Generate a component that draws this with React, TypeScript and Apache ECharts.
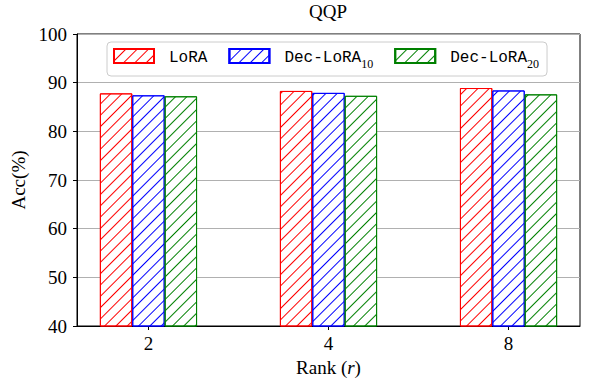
import React, { useEffect, useRef } from "react";
import * as echarts from "echarts";

const rankLabels = ["2", "4", "8"];
const seriesNames = ["LoRA", "Dec-LoRA10", "Dec-LoRA20"];
const loraAcc = [87.8, 88.3, 88.9];
const dec10Acc = [87.4, 87.9, 88.4];
const dec20Acc = [87.2, 87.3, 87.6];
const seriesColors = ["#ff0000", "#0000ff", "#008000"];
const yTicks = [40, 50, 60, 70, 80, 90, 100];

const SERIF = "'Liberation Serif', 'Times New Roman', serif";
const MONO = "'Liberation Mono', 'DejaVu Sans Mono', monospace";

export default function App() {
  const ref = useRef<HTMLDivElement>(null);
  useEffect(() => {
    document.body.style.margin = "0";
    if (!ref.current) return;
    const chart = echarts.init(ref.current, null, { renderer: "svg" });
    const values = [loraAcc, dec10Acc, dec20Acc];
    const mkDecal = (c: string) => ({
      symbol: "rect",
      symbolSize: 1,
      color: c,
      backgroundColor: "#ffffff",
      dashArrayX: [1, 0],
      dashArrayY: [1, 7],
      rotation: -Math.PI / 4,
    });
    chart.setOption({
      animation: false,
      aria: { enabled: true, decal: { show: true } },
      title: {
        text: "QQP",
        left: 328,
        top: 2,
        textAlign: "center",
        padding: 0,
        textStyle: { fontFamily: SERIF, fontSize: 19, fontWeight: "normal", color: "#000" },
      },
      grid: {
        left: 77,
        right: 10,
        top: 34,
        bottom: 64,
        show: true,
        borderColor: "#000",
        borderWidth: 1,
        backgroundColor: "transparent",
      },
      legend: {
        data: seriesNames,
        left: 107,
        top: 42,
        icon: "rect",
        itemWidth: 40,
        itemHeight: 14,
        itemGap: 21,
        padding: [6, 8, 6, 6],
        backgroundColor: "#fff",
        borderColor: "#cccccc",
        borderWidth: 1,
        borderRadius: 4,
        formatter: (name: string) => {
          const m = name.match(/^(.*?)(\d+)$/);
          return m ? `{main|${m[1]}}{sub|${m[2]}}` : `{main|${name}}`;
        },
        textStyle: {
          padding: [0, 0, 0, 10],
          rich: {
            main: { fontFamily: MONO, fontSize: 16, color: "#000", lineHeight: 20, verticalAlign: "bottom" },
            sub: { fontFamily: SERIF, fontSize: 12, color: "#000", lineHeight: 20, verticalAlign: "bottom", padding: [0, 0, -4, 0] },
          },
        },
      },
      xAxis: {
        type: "value",
        min: -0.397,
        max: 2.397,
        name: "Rank ({i|r})",
        nameLocation: "middle",
        nameGap: 31,
        nameTextStyle: {
          fontFamily: SERIF,
          fontSize: 19,
          color: "#000",
          rich: { i: { fontFamily: SERIF, fontStyle: "italic", fontSize: 19, color: "#000" } },
        },
        axisLine: { show: true, onZero: false, lineStyle: { color: "#000", width: 1 } },
        axisTick: { show: true, length: 4, customValues: [0, 1, 2], lineStyle: { color: "#000" } },
        axisLabel: {
          customValues: [0, 1, 2],
          formatter: (v: number) => rankLabels[Math.round(v)] ?? "",
          fontFamily: SERIF,
          fontSize: 19,
          color: "#000",
          margin: 8,
        },
        splitLine: { show: false },
      },
      yAxis: {
        type: "value",
        min: 40,
        max: 100,
        interval: 10,
        name: "Acc(%)",
        nameLocation: "middle",
        nameGap: 46,
        nameTextStyle: { fontFamily: SERIF, fontSize: 19, color: "#000" },
        axisLine: { show: true, onZero: false, lineStyle: { color: "#000", width: 1 } },
        axisTick: { show: true, length: 4, lineStyle: { color: "#000" } },
        axisLabel: {
          fontFamily: SERIF,
          fontSize: 19,
          color: "#000",
          margin: 10,
          formatter: (v: number) => (yTicks.includes(v) ? String(v) : ""),
        },
        splitLine: { show: true, lineStyle: { color: "#b0b0b0", width: 1 } },
      },
      series: seriesNames.map((name, si) => ({
        name,
        type: "bar",
        barWidth: 32.4,
        barGap: "0%",
        data: values[si].map((v, i) => [i, v]),
        itemStyle: {
          color: "#ffffff",
          borderColor: seriesColors[si],
          borderWidth: 1,
          decal: mkDecal(seriesColors[si]),
        },
      })),
    });
    return () => chart.dispose();
  }, []);
  return <div ref={ref} style={{ width: 590, height: 390 }} />;
}
